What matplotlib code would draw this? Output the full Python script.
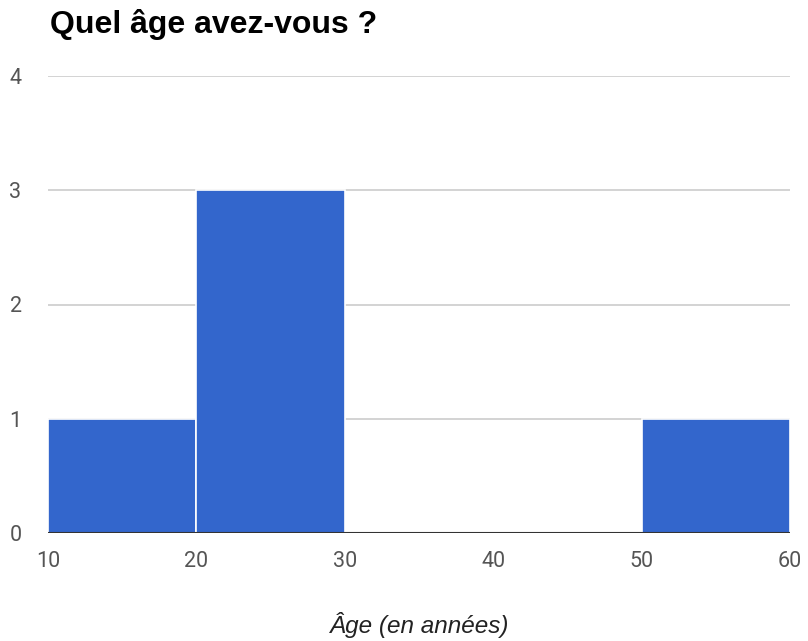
import matplotlib
matplotlib.use("Agg")
import matplotlib.pyplot as plt

bin_edges = [10, 20, 30, 40, 50, 60]
counts = [1, 3, 0, 0, 1]
x_ticks = [10, 20, 30, 40, 50, 60]
y_ticks = [0, 1, 2, 3, 4]
title = "Quel âge avez-vous ?"
xlabel = "Âge (en années)"

fig = plt.figure(figsize=(8.08, 6.41), dpi=100)
ax = fig.add_axes([48/808, 1 - 533/641, (790-48)/808, (533-76)/641])

lefts = bin_edges[:-1]
widths = [b - a for a, b in zip(bin_edges[:-1], bin_edges[1:])]
ax.bar(lefts, counts, width=widths, align="edge", color="#3366cc",
       edgecolor="white", linewidth=1.2, zorder=2)

ax.set_xlim(10, 60)
ax.set_ylim(0, 4)
ax.set_xticks(x_ticks)
ax.set_yticks(y_ticks)
ax.grid(axis="y", color="#cccccc", linewidth=1.2, zorder=0)
ax.axhline(0, color="#333333", linewidth=1.5, zorder=3)
for s in ax.spines.values():
    s.set_visible(False)
ax.tick_params(length=0)
ax.tick_params(axis="x", pad=13)
ax.tick_params(axis="y", pad=19)
for lab in ax.get_xticklabels() + ax.get_yticklabels():
    lab.set_family("Roboto")
    lab.set_fontsize(15.5)
    lab.set_color("#555555")

fig.text(50/808, 1 - 25/641, title, family="Liberation Sans", weight="bold",
         fontsize=23, color="#000000", va="center", ha="left")
fig.text(420/808, 1 - 625/641, xlabel, family="Liberation Sans", style="italic",
         fontsize=17.5, color="#222222", va="center", ha="center")

fig.savefig("out.png", dpi=100)
